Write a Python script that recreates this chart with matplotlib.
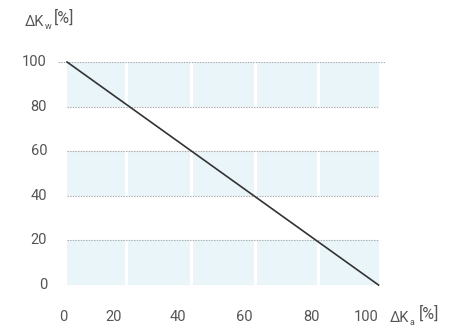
import matplotlib.pyplot as plt
from matplotlib.transforms import blended_transform_factory, Affine2D

# data
ka = [0, 100]
kw = [100, 0]
y_ticks = [0, 20, 40, 60, 80, 100]
x_tick_labels = ['0', '20', '40', '60', '80', '100']
band_rows = [(0, 20), (40, 60), (80, 100)]
col_edges = [0, 20, 40, 60, 80, 100]

# layout (tick labels sit a bit off the column edges in the original)
x_label_pos = [-1.3, 14.8, 35.5, 56.8, 78.4, 96.1]
gap_pos = [19.0, 39.7, 60.3, 80.6]

W, H = 459, 328
fig = plt.figure(figsize=(W / 100, H / 100), dpi=100)
ax = fig.add_axes([58 / W, (H - 285) / H, (385 - 58) / W, (285 - 62) / H])
x0, x1 = -9 / 3.1, 318 / 3.1 - 0.5
ax.set_xlim(x0, x1)
ax.set_ylim(0, 100)
ax.axis('off')

band_color = '#eaf5fa'
grid_color = '#a5a5a5'
text_color = '#555555'
font = 'Roboto'

for lo, hi in band_rows:
    ax.fill_between([col_edges[0], col_edges[-1]], lo, hi, color=band_color, lw=0, zorder=0)
for g in gap_pos:
    ax.axvline(g, color='white', lw=2.2, zorder=1)

for y in y_ticks:
    if y in (0, 100):
        ax.plot([x0, x1], [y, y], color=grid_color, lw=0.8, ls=(0, (1.2, 1.2)), zorder=2)
    else:
        ax.plot([col_edges[0], col_edges[-1]], [y, y], color=grid_color, lw=0.8,
                ls=(0, (1.2, 1.2)), zorder=2)

ax.plot(ka, kw, color='#333333', lw=1.2, zorder=3, clip_on=False)

ytr = blended_transform_factory(ax.transAxes, ax.transData)
for y in y_ticks:
    ax.text(-11 / 327, y, str(y), transform=ytr, ha='right', va='center',
            fontsize=10.5, color=text_color, family=font)

xtr = blended_transform_factory(ax.transData, ax.transAxes)
for xp, lab in zip(x_label_pos, x_tick_labels):
    ax.text(xp, -32 / 223, lab, transform=xtr, ha='center', va='center',
            fontsize=10.5, color=text_color, family=font)

# axis titles, placed in pixel coords from top-left
pix = Affine2D().scale(1, -1).translate(0, H)


def axis_title(x, y, sub):
    fig.text(x, y, 'ΔK', transform=pix, ha='left', va='baseline',
             fontsize=10.5, color=text_color, family=font)
    fig.text(x + 20, y + 3, sub, transform=pix, ha='left', va='baseline',
             fontsize=6.5, color=text_color, family=font)
    fig.text(x + 29, y - 3, '[%]', transform=pix, ha='left', va='baseline',
             fontsize=11.5, color=text_color, family=font)


axis_title(25, 26, 'w')
axis_title(390, 322, 'a')

fig.savefig('out.png', dpi=100)
